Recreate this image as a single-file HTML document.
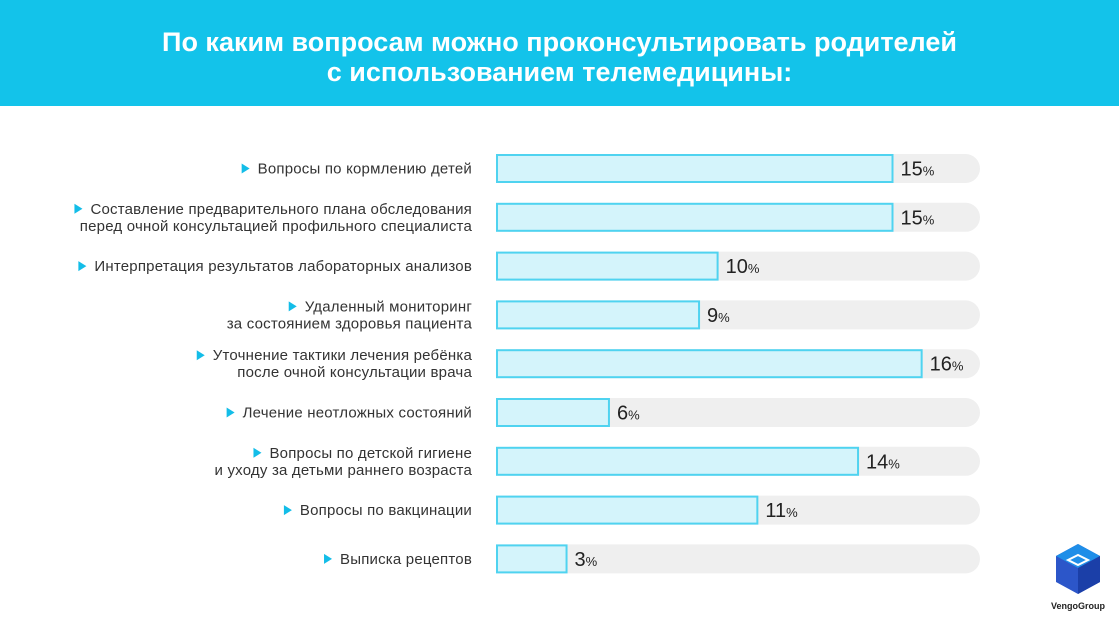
<!DOCTYPE html>
<html><head><meta charset="utf-8"><style>
body{margin:0;width:1119px;height:630px;overflow:hidden;background:#fff;font-family:"Liberation Sans","Noto Sans CJK SC",sans-serif}
#hdr{position:absolute;left:0;top:0;width:1119px;height:106px;background:#13c3ea;color:#fff;text-align:center;font-weight:bold;font-size:27px;line-height:30px;padding-top:27px;box-sizing:border-box}
svg{position:absolute;left:0;top:0}
</style></head><body>
<div id="hdr">По каким вопросам можно проконсультировать родителей<br>с использованием телемедицины:</div>
<svg id="c" width="1119" height="630">
<g>
<polygon points="1078,544 1100,556 1100,582 1078,594 1056,582 1056,556" fill="#2c56c9"/>
<polygon points="1078,544 1100,556 1078,568 1056,556" fill="#1f8ee8"/>
<polygon points="1078,568 1100,556 1100,582 1078,594" fill="#1b3fa8"/>
<path d="M1068,560 l10,-5 l10,5 l-10,5 z" fill="none" stroke="#fff" stroke-width="2"/>
<text x="1078" y="609" font-size="9" text-anchor="middle" fill="#222" font-weight="bold">VengoGroup</text>
</g>
</svg>
<script>
const categories=[["Вопросы по кормлению детей"],["Составление предварительного плана обследования","перед очной консультацией профильного специалиста"],["Интерпретация результатов лабораторных анализов"],["Удаленный мониторинг","за состоянием здоровья пациента"],["Уточнение тактики лечения ребёнка","после очной консультации врача"],["Лечение неотложных состояний"],["Вопросы по детской гигиене","и уходу за детьми раннего возраста"],["Вопросы по вакцинации"],["Выписка рецептов"]];
const values=[15,15,8.4,7.7,16.1,4.3,13.7,9.9,2.7];
const valueLabels=["15","15","10","9","16","6","14","11","3"];
const svg=document.getElementById('c');
const NS="http://www.w3.org/2000/svg";
const x0=496,scale=26.5,rowTop=154,rowStep=48.8,barH=29;
function xs(v){return x0+v*scale;}
function mk(t,a){const e=document.createElementNS(NS,t);for(const k in a)e.setAttribute(k,a[k]);svg.appendChild(e);return e;}
values.forEach((v,i)=>{
  const y=rowTop+i*rowStep,cy=y+barH/2;
  const tr=mk('rect',{x:x0,y:y,width:980-x0,height:barH,rx:14.5,fill:'#efefef'});
  
  
  const r=mk('rect',{x:x0+1,y:y+1,width:xs(v)-x0-2,height:barH-2,fill:'#d4f4fb',stroke:'#4fd3f0','stroke-width':2});
  
  
  const vt=mk('text',{x:xs(v)+7,y:cy+7,'font-size':20,fill:'#222'});
  vt.innerHTML=valueLabels[i]+'<tspan font-size="13">%</tspan>';
  
  
  const lines=categories[i];
  const n=lines.length;
  lines.forEach((ln,j)=>{
    const ly=cy+5+(j-(n-1)/2)*17;
    const t=mk('text',{x:472,y:ly,'font-size':15,fill:'#333','text-anchor':'end','letter-spacing':'0.2'});
    t.textContent=ln;
    
    
    if(j===0){
      const w=t.getComputedTextLength();
      const ax=472-w-8;
      const a=mk('polygon',{points:(ax-8)+','+(ly-10)+' '+ax+','+(ly-5)+' '+(ax-8)+','+ly,fill:'#13bde8'});
      
      
    }
  });
});
</script>
</body></html>
